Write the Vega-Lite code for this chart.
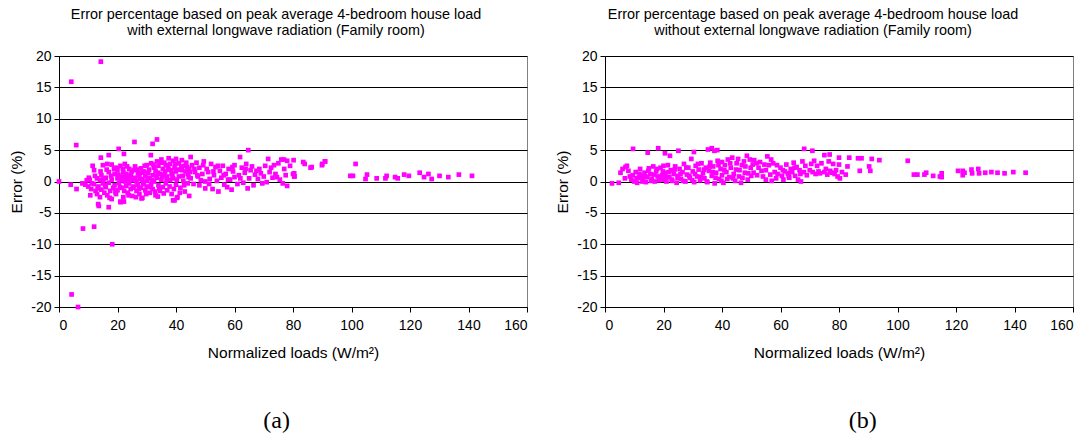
{
  "$schema": "https://vega.github.io/schema/vega-lite/v6.json",
  "background": "white",
  "padding": {"left": 9, "top": 6, "right": 3, "bottom": 5},
  "spacing": 27,
  "config": {
    "font": "Liberation Sans",
    "view": {"stroke": "#808080", "strokeWidth": 1},
    "axis": {
      "labelFont": "Liberation Sans", "labelFontSize": 14, "labelColor": "#000",
      "titleFont": "Liberation Sans", "titleFontSize": 15.5, "titleFontWeight": "normal", "titleColor": "#000",
      "domainColor": "#000", "tickColor": "#000", "gridColor": "#000", "gridWidth": 1, "tickSize": 5,
      "labelExpr": "'' + datum.value"
    }
  },
  "datasets": {
    "a": [
      {"x":0,"y":0},{"x":4.2,"y":15.9},{"x":14.3,"y":19.1},{"x":5.9,"y":5.8},{"x":4,"y":-0.5},{"x":6,"y":-1.2},{"x":8.2,"y":-7.5},{"x":12,"y":-7.2},{"x":18.2,"y":-10},{"x":4.3,"y":-18},{"x":6.5,"y":-20},{"x":13.4,"y":-3.6},{"x":13.6,"y":-3.9},{"x":17,"y":-4.1},{"x":10.7,"y":-2.2},{"x":33.5,"y":6.7},{"x":32,"y":6.0},{"x":25.8,"y":6.3},{"x":20.4,"y":5.2},{"x":22.2,"y":4.4},{"x":14.3,"y":3.8},{"x":17,"y":4.2},{"x":31.4,"y":4.2},{"x":64.7,"y":5.0},{"x":61.9,"y":3.9},{"x":101.4,"y":2.8},{"x":90.9,"y":3.2},{"x":21.1,"y":-3.3},{"x":22.2,"y":-3.2},{"x":28.2,"y":-2.7},{"x":39,"y":-3.0},{"x":40.3,"y":-2.6},{"x":44.5,"y":-2.3},{"x":33.8,"y":-2.4},
      {"x":99.6,"y":0.9},{"x":100.5,"y":0.9},{"x":104.8,"y":0.4},{"x":105.3,"y":1.1},{"x":108.6,"y":0.5},{"x":111.6,"y":0.5},{"x":112,"y":0.9},{"x":114.9,"y":0.7},{"x":115.8,"y":0.5},{"x":118,"y":1.1},{"x":119.6,"y":0.9},{"x":123.3,"y":1.4},{"x":124.8,"y":0.7},{"x":126.3,"y":1.2},{"x":127.4,"y":0.4},{"x":130.1,"y":0.9},{"x":133.1,"y":0.7},{"x":136.7,"y":1.1},{"x":141.2,"y":0.9},
      {"x":75,"y":2.9},{"x":83.5,"y":3.1},{"x":86.4,"y":2.3},{"x":89.9,"y":2.6},{"x":80.2,"y":3.4},{"x":76.9,"y":3.5},{"x":71.5,"y":3.6},{"x":80.4,"y":1.3},{"x":80.4,"y":0.8},{"x":78,"y":-0.7},
      {"x":8,"y":-0.3},{"x":9,"y":-0.5},{"x":9.5,"y":0.2},{"x":10,"y":-0.8},{"x":10.5,"y":0.3},{"x":11,"y":-1.2},{"x":11.5,"y":2.5},{"x":12,"y":1.8},{"x":12,"y":-0.4},{"x":12.5,"y":-1.5},{"x":13,"y":0.5},{"x":13,"y":-2},{"x":13.5,"y":-0.8},{"x":14,"y":0.2},{"x":14,"y":-2.5},{"x":14.5,"y":1.0},{"x":14.5,"y":-1.3},{"x":15,"y":-0.3},{"x":15,"y":2.6},{"x":15.5,"y":-1.8},{"x":16,"y":0.6},{"x":16,"y":-0.9},{"x":16.5,"y":2.8},{"x":16.5,"y":-2.2},{"x":17,"y":1.5},{"x":17,"y":-0.2},{"x":17.5,"y":-1.5},{"x":18,"y":0.3},{"x":18,"y":2.7},{"x":18,"y":-2.8},{"x":18.5,"y":-1.0},{"x":19,"y":1.2},{"x":19,"y":-0.6},{"x":19.5,"y":2.2},{"x":19.5,"y":-2.0},{"x":20,"y":0.5},{"x":20,"y":-1.4},{"x":20,"y":1.8},
      {"x":20.5,"y":-0.2},{"x":21,"y":2.5},{"x":21,"y":-3.2},{"x":21.5,"y":0.8},{"x":21.5,"y":-1.0},{"x":22,"y":1.5},{"x":22,"y":-2.5},{"x":22.5,"y":0.0},{"x":22.5,"y":2.8},{"x":23,"y":-0.7},{"x":23,"y":1.2},{"x":23.5,"y":-1.8},{"x":23.5,"y":0.4},{"x":24,"y":2.0},{"x":24,"y":-0.3},{"x":24.5,"y":-1.2},{"x":24.5,"y":1.0},{"x":25,"y":0.2},{"x":25,"y":-2.3},{"x":25.5,"y":1.8},{"x":25.5,"y":-0.8},{"x":26,"y":0.6},{"x":26,"y":2.4},{"x":26.5,"y":-1.5},{"x":26.5,"y":0.0},{"x":27,"y":1.3},{"x":27,"y":-0.5},{"x":27.5,"y":-2.0},{"x":27.5,"y":0.8},{"x":28,"y":2.1},{"x":28,"y":-1.0},{"x":28.5,"y":0.3},{"x":28.5,"y":-2.6},{"x":29,"y":1.6},{"x":29,"y":-0.2},{"x":29.5,"y":0.9},{"x":29.5,"y":-1.4},{"x":30,"y":2.6},{"x":30,"y":0.1},{"x":30,"y":-0.8},
      {"x":30.5,"y":1.4},{"x":31,"y":-1.8},{"x":31,"y":0.5},{"x":31.5,"y":2.9},{"x":31.5,"y":-0.4},{"x":32,"y":1.0},{"x":32,"y":-1.2},{"x":32.5,"y":2.2},{"x":32.5,"y":0.0},{"x":33,"y":-2.2},{"x":33,"y":1.7},{"x":33.5,"y":0.6},{"x":33.5,"y":3.2},{"x":34,"y":-0.6},{"x":34,"y":2.5},{"x":34.5,"y":1.2},{"x":34.5,"y":-1.5},{"x":35,"y":3.5},{"x":35,"y":0.3},{"x":35.5,"y":-0.9},{"x":35.5,"y":2.0},{"x":36,"y":1.1},{"x":36,"y":3.0},{"x":36.5,"y":-0.3},{"x":36.5,"y":2.6},{"x":37,"y":0.8},{"x":37,"y":-1.4},{"x":37.5,"y":3.7},{"x":37.5,"y":1.9},{"x":38,"y":0.2},{"x":38,"y":2.8},{"x":38.5,"y":-2.0},{"x":38.5,"y":1.3},{"x":39,"y":3.3},{"x":39,"y":0.5},{"x":39.5,"y":-3.0},{"x":39.5,"y":2.2},{"x":40,"y":1.6},{"x":40,"y":-0.5},{"x":40,"y":3.6},{"x":40.5,"y":-2.5},{"x":41,"y":2.9},{"x":41,"y":0.8},{"x":41.5,"y":-1.0},{"x":42,"y":3.4},{"x":42,"y":1.8},{"x":42.5,"y":0.1},{"x":43,"y":2.5},{"x":43,"y":-1.6},{"x":43.5,"y":3.0},{"x":44,"y":1.2},{"x":44,"y":-0.3},{"x":44.5,"y":2.0},{"x":45,"y":3.9},{"x":45,"y":0.5},
      {"x":10.2,"y":0.6},{"x":11.2,"y":-0.3},{"x":12.3,"y":0.9},{"x":13.2,"y":-1.1},{"x":14.2,"y":1.6},{"x":15.3,"y":0.4},{"x":15.8,"y":-0.6},{"x":16.3,"y":1.9},{"x":17.3,"y":-2.6},{"x":17.8,"y":0.9},{"x":18.8,"y":2.0},{"x":19.3,"y":-1.7},{"x":20.3,"y":1.1},{"x":20.8,"y":-0.9},{"x":21.3,"y":0.2},{"x":21.8,"y":2.0},{"x":22.3,"y":-1.5},{"x":22.8,"y":0.6},{"x":23.3,"y":2.4},{"x":23.8,"y":-2.2},{"x":24.3,"y":0.8},{"x":24.8,"y":1.5},{"x":25.3,"y":-1.0},{"x":25.8,"y":0.5},{"x":26.3,"y":-2.5},{"x":26.8,"y":1.9},{"x":27.3,"y":-1.2},{"x":27.8,"y":0.4},{"x":28.3,"y":1.4},{"x":28.8,"y":-0.4},{"x":29.3,"y":2.5},{"x":29.8,"y":-2.0},{"x":30.3,"y":0.6},{"x":30.8,"y":1.9},{"x":31.3,"y":-0.9},{"x":31.8,"y":0.2},{"x":32.3,"y":2.7},{"x":32.8,"y":-1.6},{"x":33.3,"y":0.9},{"x":33.8,"y":1.4},{"x":34.3,"y":-1.1},{"x":34.8,"y":3.0},{"x":35.3,"y":0.8},{"x":35.8,"y":-1.9},{"x":36.3,"y":1.6},{"x":36.8,"y":0.4},{"x":37.3,"y":2.2},{"x":37.8,"y":-0.8},{"x":38.3,"y":1.8},{"x":38.8,"y":0.9},{"x":39.3,"y":-1.2},{"x":39.8,"y":2.8},{"x":40.3,"y":0.3},{"x":40.8,"y":1.9},{"x":41.3,"y":-1.8},{"x":41.8,"y":2.4},{"x":42.3,"y":0.9},{"x":42.8,"y":-0.6},{"x":43.3,"y":1.6},{"x":43.8,"y":2.3},{"x":44.3,"y":0.7},{"x":44.8,"y":1.5},
      {"x":45.5,"y":2.6},{"x":46,"y":-0.4},{"x":46.5,"y":1.5},{"x":47,"y":3.0},{"x":47.5,"y":0.8},{"x":48,"y":-0.6},{"x":48,"y":2.2},{"x":49,"y":1.2},{"x":49.5,"y":3.2},{"x":50,"y":0.0},{"x":50,"y":-1.1},{"x":50.5,"y":2.0},{"x":51,"y":1.5},{"x":51.5,"y":0.4},{"x":52,"y":2.8},{"x":52.5,"y":-1.2},{"x":53,"y":1.0},{"x":53.5,"y":2.3},{"x":54,"y":0.1},{"x":54.5,"y":-1.6},{"x":55,"y":1.7},{"x":55.5,"y":0.6},{"x":56,"y":2.5},{"x":56.5,"y":-0.5},{"x":57,"y":1.2},{"x":57.5,"y":-0.9},{"x":58,"y":2.0},{"x":58.5,"y":0.3},{"x":59,"y":-1.3},{"x":59.5,"y":1.6},{"x":60,"y":0.7},{"x":60,"y":2.6},
      {"x":46.3,"y":2.0},{"x":47.3,"y":1.0},{"x":48.5,"y":0.2},{"x":49.3,"y":2.6},{"x":51.3,"y":-0.4},{"x":52.8,"y":1.6},{"x":54.3,"y":2.5},{"x":56.3,"y":1.0},{"x":57.8,"y":0.3},{"x":59.3,"y":2.3},{"x":62,"y":0.5},{"x":63.8,"y":2.0},{"x":67.5,"y":1.7},{"x":69.5,"y":-0.3},{"x":73.5,"y":2.6},{"x":74.5,"y":0.7},
      {"x":61,"y":-0.4},{"x":61.5,"y":1.0},{"x":62.5,"y":2.2},{"x":63,"y":-0.2},{"x":63.5,"y":1.4},{"x":64,"y":2.8},{"x":64.5,"y":-1.1},{"x":65,"y":0.5},{"x":65.5,"y":1.8},{"x":66,"y":2.4},{"x":66.5,"y":-0.6},{"x":67,"y":1.1},{"x":68,"y":0.4},{"x":68.5,"y":2.0},{"x":69,"y":1.3},{"x":70,"y":0.8},{"x":70.5,"y":2.5},{"x":71,"y":-0.1},{"x":72,"y":1.5},{"x":72.5,"y":2.2},{"x":73,"y":0.6},{"x":74,"y":1.2},{"x":75.5,"y":0.3},{"x":76,"y":3.5},{"x":76.5,"y":-0.3},{"x":77,"y":2.0},{"x":77.5,"y":1.0},{"x":78,"y":3.3},{"x":79,"y":2.5},{"x":80,"y":1.2},{"x":80.5,"y":0.8},
      {"x":84,"y":2.8},{"x":86,"y":2.2},{"x":90,"y":2.8},{"x":91,"y":3.2}
    ],
    "b": [
      {"x":2.4,"y":-0.3},{"x":4.7,"y":-0.2},{"x":6.8,"y":0.5},{"x":5.3,"y":1.4},{"x":9.6,"y":5.2},{"x":18.2,"y":5.3},{"x":14.6,"y":4.6},{"x":20.5,"y":4.5},{"x":22.2,"y":4.1},{"x":25.1,"y":4.9},{"x":30.4,"y":4.7},{"x":35.2,"y":5.1},{"x":36.5,"y":5.3},{"x":37.4,"y":4.9},{"x":38.4,"y":5.0},{"x":68.1,"y":5.2},{"x":70.9,"y":4.9},{"x":103.5,"y":3.3},{"x":93.8,"y":3.4},{"x":91.2,"y":3.6},{"x":90.3,"y":2.4},{"x":90.7,"y":1.7},{"x":87.1,"y":1.7},{"x":82.9,"y":2.4},{"x":82.3,"y":1.1},{"x":80.3,"y":0.5},{"x":83.5,"y":3.8},{"x":80,"y":3.8},{"x":76.8,"y":4.3},{"x":75,"y":4.2},{"x":86.5,"y":3.7},{"x":87.7,"y":3.7},
      {"x":105.6,"y":1.1},{"x":106.8,"y":1.1},{"x":109.2,"y":1.1},{"x":109.8,"y":1.4},{"x":112.2,"y":0.9},{"x":114.5,"y":0.8},{"x":115.1,"y":1.3},{"x":115.1,"y":0.7},{"x":120.7,"y":1.7},{"x":122.3,"y":1.7},{"x":122.3,"y":1.0},{"x":122.9,"y":1.4},{"x":125.3,"y":1.9},{"x":125.5,"y":1.3},{"x":127.6,"y":2.0},{"x":127.9,"y":1.3},{"x":130,"y":1.4},{"x":132.1,"y":1.5},{"x":134.2,"y":1.4},{"x":136.6,"y":1.3},{"x":139.6,"y":1.5},{"x":143.8,"y":1.4},
      {"x":6,"y":2.0},{"x":7,"y":2.3},{"x":7.5,"y":2.5},{"x":8,"y":1.7},{"x":8.5,"y":0.8},{"x":9,"y":0.3},{"x":9.5,"y":1.0},{"x":10,"y":0.0},{"x":10.5,"y":1.5},{"x":11,"y":-0.2},{"x":11.5,"y":0.6},{"x":12,"y":2.0},{"x":12.5,"y":0.9},{"x":13,"y":0.2},{"x":13.5,"y":1.4},{"x":14,"y":-0.1},{"x":14.5,"y":0.7},{"x":15,"y":2.1},{"x":15.5,"y":1.2},{"x":16,"y":0.4},{"x":16.5,"y":2.4},{"x":17,"y":0.0},{"x":17.5,"y":1.6},{"x":18,"y":0.8},{"x":18.5,"y":0.2},{"x":19,"y":2.2},{"x":19.5,"y":1.0},{"x":20,"y":0.3},{"x":20,"y":2.5},
      {"x":20.5,"y":1.4},{"x":21,"y":0.0},{"x":21.5,"y":2.6},{"x":22,"y":0.7},{"x":22.5,"y":1.8},{"x":23,"y":0.1},{"x":23.5,"y":1.2},{"x":24,"y":2.4},{"x":24.5,"y":-0.2},{"x":25,"y":0.9},{"x":25.5,"y":2.0},{"x":26,"y":0.4},{"x":26.5,"y":1.5},{"x":27,"y":2.8},{"x":27.5,"y":0.0},{"x":28,"y":1.1},{"x":28.5,"y":2.2},{"x":29,"y":0.6},{"x":29.5,"y":3.6},{"x":30,"y":1.6},{"x":30.5,"y":-0.1},{"x":31,"y":2.5},{"x":31.5,"y":0.8},{"x":32,"y":1.9},{"x":32.5,"y":0.2},{"x":33,"y":2.9},{"x":33.5,"y":1.3},{"x":34,"y":0.5},{"x":34.5,"y":2.2},{"x":35,"y":-0.1},{"x":35.5,"y":1.7},{"x":36,"y":3.0},{"x":36.5,"y":0.9},{"x":37,"y":2.4},{"x":37.5,"y":-0.3},{"x":38,"y":1.4},{"x":38.5,"y":3.3},{"x":39,"y":0.4},{"x":39.5,"y":2.0},{"x":40,"y":1.0},{"x":40,"y":3.1},
      {"x":10.8,"y":0.5},{"x":11.8,"y":1.2},{"x":12.8,"y":0.0},{"x":13.8,"y":0.8},{"x":14.8,"y":1.7},{"x":15.8,"y":0.1},{"x":16.8,"y":1.1},{"x":17.8,"y":2.0},{"x":18.8,"y":0.5},{"x":19.8,"y":1.6},{"x":20.8,"y":0.7},{"x":21.8,"y":1.5},{"x":22.8,"y":0.3},{"x":23.8,"y":1.9},{"x":24.8,"y":0.6},{"x":25.8,"y":1.2},{"x":26.8,"y":0.1},{"x":27.8,"y":2.2},{"x":28.8,"y":0.9},{"x":29.8,"y":0.2},{"x":30.8,"y":1.2},{"x":31.8,"y":2.8},{"x":32.8,"y":0.7},{"x":33.8,"y":1.9},{"x":34.8,"y":0.0},{"x":35.8,"y":2.4},{"x":36.8,"y":1.5},{"x":37.8,"y":0.6},{"x":38.8,"y":2.6},{"x":39.8,"y":0.1},{"x":40.8,"y":1.8},{"x":41.8,"y":0.4},{"x":42.8,"y":2.9},{"x":43.8,"y":0.5},{"x":44.8,"y":1.9},{"x":45.8,"y":0.8},{"x":46.8,"y":2.6},{"x":47.8,"y":1.4},{"x":48.8,"y":0.3},{"x":49.8,"y":2.2},{"x":50.8,"y":1.4},{"x":51.8,"y":2.9},{"x":53.5,"y":1.7},{"x":54.5,"y":2.7},{"x":56.8,"y":3.5},{"x":58.8,"y":2.6},{"x":60.8,"y":1.8},{"x":62.8,"y":0.9},{"x":64.8,"y":2.2},{"x":66.8,"y":1.2},
      {"x":40.5,"y":-0.2},{"x":41,"y":2.6},{"x":41.5,"y":1.5},{"x":42,"y":3.5},{"x":42.5,"y":0.7},{"x":43,"y":2.2},{"x":43.5,"y":3.8},{"x":44,"y":1.2},{"x":44.5,"y":0.1},{"x":45,"y":2.9},{"x":45.5,"y":3.6},{"x":46,"y":1.8},{"x":46.5,"y":-0.2},{"x":47,"y":0.6},{"x":47.5,"y":3.2},{"x":48,"y":2.4},{"x":48.5,"y":4.1},{"x":49,"y":1.3},{"x":49.5,"y":3.5},{"x":50,"y":0.9},{"x":50.5,"y":2.7},{"x":51,"y":3.4},{"x":52,"y":1.0},{"x":52.5,"y":2.2},{"x":53,"y":3.1},{"x":54,"y":0.8},{"x":55,"y":0.3},{"x":55,"y":1.8},{"x":55.5,"y":4.0},{"x":56,"y":2.6},
      {"x":56.5,"y":1.1},{"x":57,"y":0.1},{"x":57.5,"y":2.9},{"x":58,"y":1.5},{"x":58.5,"y":0.5},{"x":59,"y":1.2},{"x":60,"y":2.2},{"x":60.5,"y":0.9},{"x":61,"y":0.3},{"x":61.5,"y":1.6},{"x":62,"y":2.7},{"x":62.5,"y":1.3},{"x":63,"y":0.6},{"x":63.5,"y":2.0},{"x":64,"y":1.5},{"x":64.5,"y":3.0},{"x":65,"y":0.9},{"x":65.5,"y":2.3},{"x":66,"y":0.3},{"x":66.5,"y":1.8},{"x":67,"y":0.0},{"x":67.5,"y":3.2},{"x":68,"y":1.5},{"x":68.5,"y":2.5},{"x":69,"y":1.0},{"x":70,"y":1.8},
      {"x":70.5,"y":2.8},{"x":71,"y":1.5},{"x":71.5,"y":3.3},{"x":72,"y":1.2},{"x":72.5,"y":2.5},{"x":73,"y":1.6},{"x":73.5,"y":1.3},{"x":74,"y":2.9},{"x":75,"y":1.5},{"x":75.5,"y":2.0},{"x":76,"y":1.1},{"x":76.5,"y":3.2},{"x":77,"y":1.7},{"x":77.5,"y":1.4},{"x":78,"y":2.8},{"x":78.5,"y":1.2},{"x":79,"y":1.8},{"x":79.5,"y":0.8},{"x":80,"y":2.7},{"x":81,"y":1.5}
    ]
  },
  "hconcat": [
    {
      "title": {"text": "(a)", "orient": "bottom", "anchor": "middle", "font": "Liberation Serif", "fontSize": 24, "fontWeight": "normal", "color": "#000", "offset": 48, "dx": 8},
      "vconcat": [
        {
          "title": {"text": ["Error percentage based on peak average 4-bedroom house load", "with external longwave radiation (Family room)"], "fontSize": 14.4, "fontWeight": "normal", "font": "Liberation Sans", "color": "#000", "lineHeight": 16, "offset": 11, "anchor": "middle", "frame": "group", "dx": -17},
          "width": 468,
          "height": 251,
          "data": {"name": "a"},
          "mark": {"type": "square", "size": 22, "color": "#FF00FF", "opacity": 1},
          "encoding": {
            "x": {"field": "x", "type": "quantitative", "scale": {"domain": [0, 160], "nice": false}, "axis": {"title": "Normalized loads (W/m²)", "values": [0,20,40,60,80,100,120,140,160], "grid": false, "labelPadding": 6, "titlePadding": 13}},
            "y": {"field": "y", "type": "quantitative", "scale": {"domain": [-20, 20], "nice": false}, "axis": {"title": "Error (%)", "values": [-20,-15,-10,-5,0,5,10,15,20], "grid": true, "labelPadding": 3, "titlePadding": 6}}
          }
        }
      ]
    },
    {
      "title": {"text": "(b)", "orient": "bottom", "anchor": "middle", "font": "Liberation Serif", "fontSize": 24, "fontWeight": "normal", "color": "#000", "offset": 48, "dx": 48},
      "vconcat": [
        {
          "title": {"text": ["Error percentage based on peak average 4-bedroom house load", "without external longwave radiation (Family room)"], "fontSize": 14.4, "fontWeight": "normal", "font": "Liberation Sans", "color": "#000", "lineHeight": 16, "offset": 11, "anchor": "middle", "frame": "group", "dx": -26},
          "width": 468,
          "height": 251,
          "data": {"name": "b"},
          "mark": {"type": "square", "size": 22, "color": "#FF00FF", "opacity": 1},
          "encoding": {
            "x": {"field": "x", "type": "quantitative", "scale": {"domain": [0, 160], "nice": false}, "axis": {"title": "Normalized loads (W/m²)", "values": [0,20,40,60,80,100,120,140,160], "grid": false, "labelPadding": 6, "titlePadding": 13}},
            "y": {"field": "y", "type": "quantitative", "scale": {"domain": [-20, 20], "nice": false}, "axis": {"title": "Error (%)", "values": [-20,-15,-10,-5,0,5,10,15,20], "grid": true, "labelPadding": 3, "titlePadding": 6}}
          }
        }
      ]
    }
  ]
}
